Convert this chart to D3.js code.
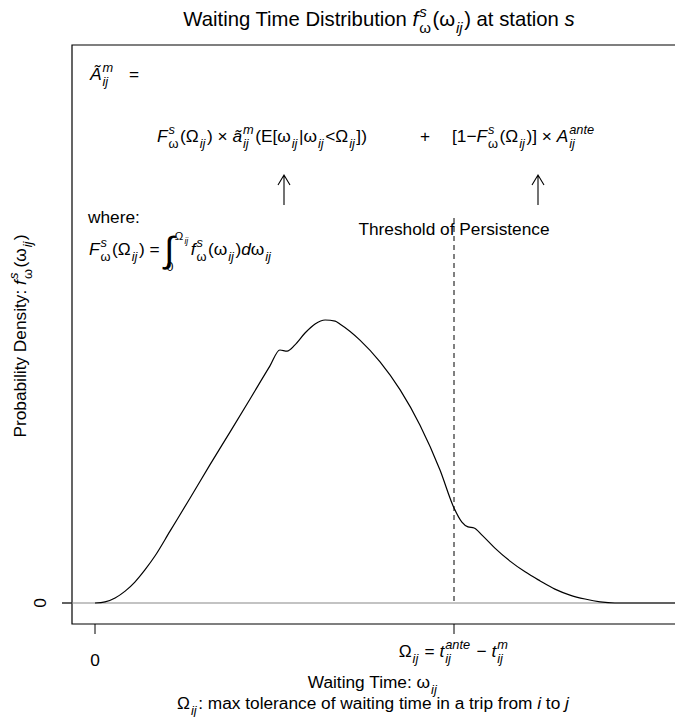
<!DOCTYPE html>
<html><head><meta charset="utf-8">
<script src="https://cdn.jsdelivr.net/npm/d3@7"></script>
<style>body{margin:0;background:#fff}text{font-family:"Liberation Sans",Arial,sans-serif;fill:#000;white-space:pre}</style>
</head><body><svg id="c" width="675" height="717"></svg>
<script>
// ---- data ----
const waitTime = [0,0.28,0.56,0.84,1.11,1.39,1.67,2.09,2.65,3.20,3.76,4.32,4.87,5.15,5.35,5.57,5.85,6.13,6.41,6.69,6.82,7.38,7.94,8.50,9.05,9.61,10.0,10.22,10.39,10.56,10.78,11.14,11.56,11.98,12.40,12.81,13.23,13.65,14.07,14.48,16.5];
const density = [0,0.0004,0.0018,0.0042,0.0074,0.0117,0.0166,0.0254,0.0371,0.0488,0.0604,0.0721,0.0837,0.0894,0.0890,0.0912,0.0954,0.0986,0.1000,0.0996,0.0986,0.0929,0.0852,0.0753,0.0629,0.0470,0.0336,0.0286,0.0269,0.0265,0.0240,0.0194,0.0148,0.0110,0.0078,0.0049,0.0028,0.0014,0.0004,0,0];
const threshold = 10;
const xTicks = [0, threshold];
const yTicks = [0];

const svg = d3.select("#c");
const W = 675, H = 717;
const box = {l:72, t:45, r:676, b:624};
const x = d3.scaleLinear().domain([0, 10]).range([95, 454]);
const y = d3.scaleLinear().domain([0, 0.1]).range([603, 320]);

function mathText(parent, px, py, items, size, anchor) {
  const g = parent.append("g");
  function put(str, xx, yy, sz, italic) {
    const t = g.append("text").attr("x", xx).attr("y", yy).attr("font-size", sz)
      .attr("font-style", italic ? "italic" : "normal").text(str);
    return t.node().getComputedTextLength();
  }
  function run(list, x0, y0, sz) {
    let xx = x0;
    for (const it of list) {
      if (typeof it === "string") xx += put(it, xx, y0, sz, false);
      else if (it.i !== undefined) xx += put(it.i, xx, y0, sz, true);
      else if (it.big) {
        const w = put(it.big, xx, y0 + sz*0.42, sz*2.1, false);
        let w1 = 0;
        if (it.sup) w1 = run(it.sup, xx + w*1.05, y0 - sz*0.85, sz*0.66) - (xx + w*1.05);
        if (it.sub) run(it.sub, xx + w*0.2, y0 + sz*0.95, sz*0.72);
        xx += w*1.05 + w1 + 1;
      }
      else if (it.sup || it.sub) {
        let w1 = 0, w2 = 0;
        if (it.sup) w1 = run(it.sup, xx + 1, y0 - sz*0.45, sz*0.74) - xx;
        if (it.sub) w2 = run(it.sub, xx + 1, y0 + sz*0.32, sz*0.74) - xx;
        xx += Math.max(w1, w2) + 1.5;
      }
    }
    return xx;
  }
  const end = run(items, 0, 0, size);
  const shift = anchor === "middle" ? -end/2 : anchor === "end" ? -end : 0;
  g.attr("transform", `translate(${px + shift},${py})`);
  return g;
}

const fs = 17.3;
const fsw = [{i:"f"},{sup:[{i:"s"}],sub:["ω"]},"(ω",{sub:[{i:"ij"}]},")"];
const FsW = [{i:"F"},{sup:[{i:"s"}],sub:["ω"]},"(Ω",{sub:[{i:"ij"}]},")"];

// title
mathText(svg, 379, 26, ["Waiting Time Distribution ", ...fsw, " at station ", {i:"s"}], 20.3, "middle");

// box
svg.append("path").attr("d", `M${box.r},${box.t}H${box.l}V${box.b}H${box.r}`)
  .attr("fill","none").attr("stroke","#000").attr("stroke-width",1.2);

// baseline
svg.append("line").attr("x1", 62).attr("x2", W).attr("y1", y(0)).attr("y2", y(0))
  .attr("stroke","#888").attr("stroke-width",1.2);

// y ticks
yTicks.forEach(v => {
  svg.append("line").attr("x1", 62).attr("x2", box.l).attr("y1", y(v)).attr("y2", y(v)).attr("stroke","#000");
  svg.append("text").attr("transform", `translate(46,${y(v)}) rotate(-90)`).attr("text-anchor","middle")
    .attr("font-size", fs).text(String(v));
});
// x ticks
xTicks.forEach(v => {
  svg.append("line").attr("x1", x(v)).attr("x2", x(v)).attr("y1", box.b).attr("y2", box.b + 10).attr("stroke","#000");
});
svg.append("text").attr("x", x(0)).attr("y", 666).attr("text-anchor","middle").attr("font-size", fs).text("0");
mathText(svg, x(threshold), 657, ["Ω",{sub:[{i:"ij"}]}," = ",{i:"t"},{sup:[{i:"ante"}],sub:[{i:"ij"}]}," − ",{i:"t"},{sup:[{i:"m"}],sub:[{i:"ij"}]}], fs, "middle");

// axis titles
mathText(svg, 373, 688, ["Waiting Time: ω",{sub:[{i:"ij"}]}], fs, "middle");
mathText(svg, 373, 709, ["Ω",{sub:[{i:"ij"}]},": max tolerance of waiting time in a trip from ",{i:"i"}," to ",{i:"j"}], fs, "middle");
const yl = svg.append("g").attr("transform","translate(26,336) rotate(-90)");
mathText(yl, 0, 0, ["Probability Density: ", ...fsw], fs, "middle");

// threshold
svg.append("line").attr("x1", x(threshold)).attr("x2", x(threshold)).attr("y1", 218).attr("y2", y(0))
  .attr("stroke","#000").attr("stroke-dasharray","5,4");
svg.append("text").attr("x", x(threshold)).attr("y", 235).attr("text-anchor","middle").attr("font-size", fs).text("Threshold of Persistence");

// curve
const line = d3.line().x((d,i)=>x(waitTime[i])).y((d,i)=>y(density[i])).curve(d3.curveMonotoneX);
svg.append("path").datum(density).attr("d", line).attr("fill","none").attr("stroke","#000").attr("stroke-width",1.2);

// formulas
mathText(svg, 90, 80, [{i:"Ã"},{sup:[{i:"m"}],sub:[{i:"ij"}]},"   ="], fs, "start");
mathText(svg, 157, 142, [...FsW," × ",{i:"ã"},{sup:[{i:"m"}],sub:[{i:"ij"}]},"(E[ω",{sub:[{i:"ij"}]},"|ω",{sub:[{i:"ij"}]},"<Ω",{sub:[{i:"ij"}]},"])"], fs, "start");
mathText(svg, 425, 142, ["+"], fs, "middle");
mathText(svg, 452, 142, ["[1−",...FsW,"] × ",{i:"A"},{sup:[{i:"ante"}],sub:[{i:"ij"}]}], fs, "start");
mathText(svg, 88, 223, ["where:"], fs, "start");
mathText(svg, 89, 255, [...FsW," = ",{big:"∫",sup:["Ω",{sub:[{i:"ij"}]}],sub:["0"]},...fsw,{i:"d"},"ω",{sub:[{i:"ij"}]}], fs, "start");

// arrows
[284, 538].forEach(ax => {
  svg.append("path").attr("d", `M${ax},205V175M${ax-6},185L${ax},175L${ax+6},185`)
    .attr("fill","none").attr("stroke","#000").attr("stroke-width",1.1);
});
</script></body></html>
